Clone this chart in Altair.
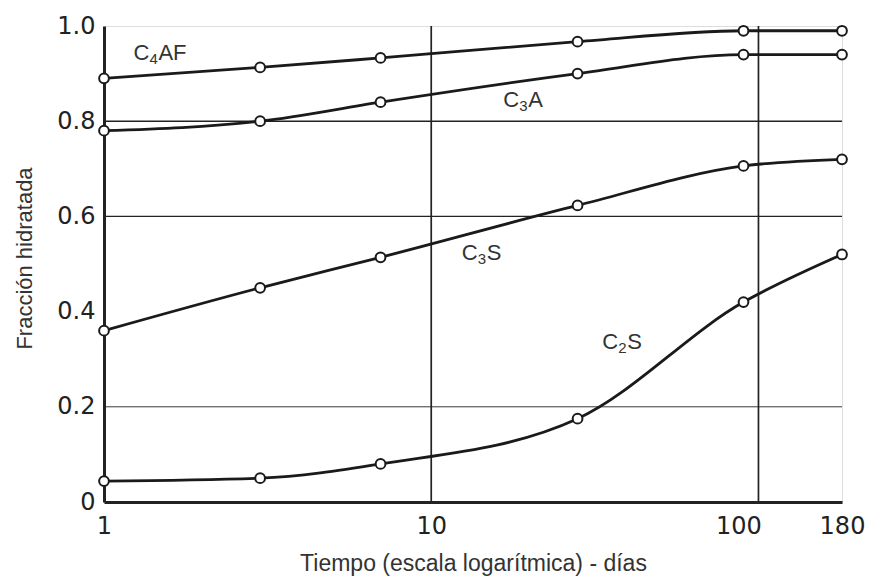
import altair as alt
import pandas as pd

days = [1, 3, 7, 28, 90, 180]
c4af = [0.89, 0.913, 0.933, 0.967, 0.99, 0.99]
c3a = [0.78, 0.80, 0.84, 0.90, 0.94, 0.94]
c3s = [0.36, 0.45, 0.514, 0.623, 0.706, 0.72]
c2s = [0.044, 0.05, 0.08, 0.175, 0.42, 0.52]

series_names = ["C4AF", "C3A", "C3S", "C2S"]
series_vals = [c4af, c3a, c3s, c2s]

# series labels: "C" + subscript digit + rest
label_main = ["C", "C", "C", "C"]
label_sub = ["4", "3", "3", "2"]
label_rest = ["AF", "A", "S", "S"]
label_x = [1.23, 16.6, 12.4, 33.3]
label_y = [0.943, 0.845, 0.523, 0.336]

hgrid = [0.2, 0.6, 0.8]
hgrid_w = [0.9, 1.4, 1.6]
vgrid = [10, 100]
x_ticks = [1, 10, 100, 180]
y_ticks = [0, 0.2, 0.4, 0.6, 0.8, 1.0]

rows = []
for name, vals in zip(series_names, series_vals):
    for d, v in zip(days, vals):
        rows.append({"serie": name, "dias": d, "fraccion": v})
df = pd.DataFrame(rows)

lab_df = pd.DataFrame({"m": label_main, "s": label_sub, "r": label_rest,
                       "x": label_x, "y": label_y})

xscale = alt.Scale(type="log", domain=[1, 180], nice=False)
yscale = alt.Scale(domain=[0, 1.0], nice=False)

xaxis = alt.Axis(values=x_ticks, title="Tiempo (escala logarítmica) - días", grid=False,
                 ticks=False, labelFontSize=24, labelFont="DejaVu Sans", labelColor="#222",
                 labelPadding=12, labelFlush=False,
                 labelOffset={"condition": {"test": "datum.value == 100", "value": -20}, "value": 0},
                 titleFont="Liberation Sans", titleFontSize=23,
                 titleFontWeight="normal", titleColor="#333", titlePadding=14,
                 domainColor="#222", domainWidth=3)
yaxis = alt.Axis(values=y_ticks, title="Fracción hidratada", grid=False, ticks=False,
                 labelFontSize=24, labelFont="DejaVu Sans", labelColor="#222",
                 labelPadding=9, labelExpr="datum.value == 0 ? '0' : format(datum.value, '.1f')",
                 titleFont="Liberation Sans", titleFontSize=22, titleFontWeight="normal",
                 titleColor="#333", titlePadding=20, titleY=232, domainColor="#222", domainWidth=3)

hg = alt.Chart(pd.DataFrame({"y": hgrid, "w": hgrid_w})).mark_rule(color="#222").encode(
    y=alt.Y("y:Q", scale=yscale, axis=yaxis),
    strokeWidth=alt.StrokeWidth("w:Q", scale=None, legend=None))
vg = alt.Chart(pd.DataFrame({"x": vgrid})).mark_rule(color="#222", strokeWidth=1.7).encode(
    x=alt.X("x:Q", scale=xscale, axis=xaxis))

lines = alt.Chart(df).mark_line(color="#1a1a1a", strokeWidth=2.8, interpolate="monotone").encode(
    x=alt.X("dias:Q", scale=xscale, axis=xaxis),
    y=alt.Y("fraccion:Q", scale=yscale, axis=yaxis),
    detail="serie:N")
pts = alt.Chart(df).mark_point(shape="circle", filled=True, fill="white", stroke="#1a1a1a",
                               strokeWidth=2, size=95, opacity=1).encode(
    x=alt.X("dias:Q", scale=xscale, axis=xaxis),
    y=alt.Y("fraccion:Q", scale=yscale, axis=yaxis))

enc = dict(x=alt.X("x:Q", scale=xscale, axis=xaxis), y=alt.Y("y:Q", scale=yscale, axis=yaxis))
t_main = alt.Chart(lab_df).mark_text(font="Liberation Sans", fontSize=22, color="#333",
                                     align="left", baseline="middle").encode(text="m:N", **enc)
t_sub = alt.Chart(lab_df).mark_text(font="Liberation Sans", fontSize=15, color="#333",
                                    align="left", baseline="middle", dx=16, dy=6).encode(text="s:N", **enc)
t_rest = alt.Chart(lab_df).mark_text(font="Liberation Sans", fontSize=22, color="#333",
                                     align="left", baseline="middle", dx=25).encode(text="r:N", **enc)

chart = alt.layer(hg, vg, lines, pts, t_main, t_sub, t_rest).properties(
    width=738, height=476,
    autosize=alt.AutoSizeParams(type="none"),
    padding={"left": 96, "top": 18, "right": 26, "bottom": 80},
).configure_view(stroke="#222", strokeWidth=3).configure(background="white")

chart.save("out.html", embed_options={"renderer": "svg", "actions": False})
